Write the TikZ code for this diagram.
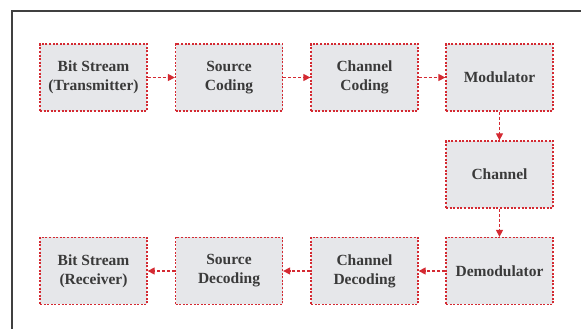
\documentclass[tikz,border=0pt]{standalone}
\usepackage{fontspec}
\setmainfont{Liberation Serif}
\usetikzlibrary{arrows.meta}
\definecolor{boxfill}{HTML}{E6E7EA}
\definecolor{dred}{HTML}{D42A32}
\definecolor{txt}{HTML}{3A3A3A}
\tikzset{
  blk/.style={draw=dred, fill=boxfill, line width=1.3pt, dash pattern=on 2pt off 1.6pt,
    minimum width=107pt, minimum height=67pt, inner sep=0pt, align=center,
    font=\bfseries\fontsize{15.5}{19}\selectfont, text=txt},
  conn/.style={draw=dred, line width=1.3pt, dash pattern=on 3pt off 2pt,
    -{Triangle[length=7pt,width=7pt,fill=dred]}}
}
\begin{document}
\begin{tikzpicture}[x=1pt,y=1pt]
\useasboundingbox (0,0) rectangle (581,329);
\fill[white] (0,0) rectangle (581,329);
\draw[line width=2.3pt, color=black!75] (12,0) -- (12,318) -- (581,318);
\node[blk] (bst) at (93.5,251.5) {Bit Stream\\(Transmitter)};
\node[blk] (sc) at (229,251.5) {Source\\Coding};
\node[blk] (cc) at (364.5,251.5) {Channel\\Coding};
\node[blk] (mod) at (499.5,251.5) {Modulator};
\node[blk] (ch) at (499.5,154.5) {Channel};
\node[blk] (dem) at (499.5,58) {Demodulator};
\node[blk] (cd) at (364.5,58) {Channel\\Decoding};
\node[blk] (sd) at (229,58) {Source\\Decoding};
\node[blk] (bsr) at (93.5,58) {Bit Stream\\(Receiver)};
\draw[conn] (bst) -- (sc);
\draw[conn] (sc) -- (cc);
\draw[conn] (cc) -- (mod);
\draw[conn] (mod) -- (ch);
\draw[conn] (ch) -- (dem);
\draw[conn] (dem) -- (cd);
\draw[conn] (cd) -- (sd);
\draw[conn] (sd) -- (bsr);
\end{tikzpicture}
\end{document}
